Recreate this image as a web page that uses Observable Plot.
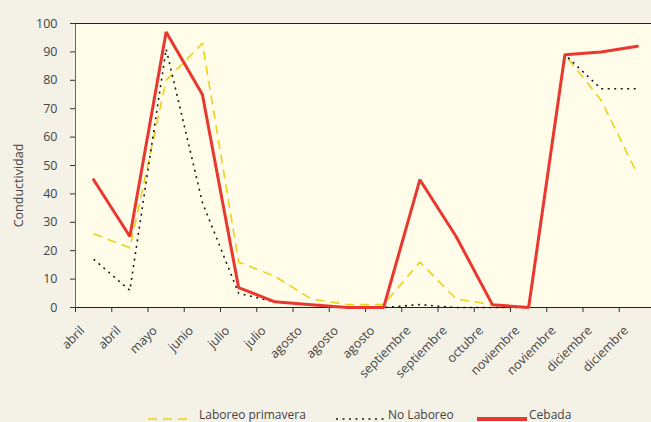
<!DOCTYPE html>
<html><head><meta charset="utf-8">
<script src="https://cdn.jsdelivr.net/npm/d3@7"></script>
<script src="https://cdn.jsdelivr.net/npm/@observablehq/plot@0.6"></script>
<style>
html,body{margin:0;padding:0;background:#f4f1e6;width:651px;height:422px;overflow:hidden;font-family:"Open Sans",sans-serif;color:#444;}
#chart svg{display:block;overflow:visible;}
#legend{position:relative;height:30px;font-size:12px;}
.item{position:absolute;top:0;height:30px;}
.item svg{position:absolute;top:0;left:0;overflow:visible;}
.item span{position:absolute;top:16px;white-space:nowrap;line-height:14px;}
</style></head><body>
<div id="chart"></div>
<div id="legend"></div>
<script>
// categories (x tick labels)
const months = ["abril","abril","mayo","junio","julio","julio","agosto","agosto","agosto","septiembre","septiembre","octubre","noviembre","noviembre","diciembre","diciembre"];
// series values
const laboreoPrimavera = [26, 21, 80, 93, 16, 11, 3, 1, 1, 16, 3, 1, 0, 89, 73, 47];
const noLaboreo        = [17, 6, 91, 37, 5, 2, 1, 0, 0, 1, 0, 0, 0, 89, 77, 77];
const cebada           = [45, 25, 97, 75, 7, 2, 1, 0, 0, 45, 25, 1, 0, 89, 90, 92];
const seriesNames = ["Laboreo primavera", "No Laboreo", "Cebada"];
const yTicks = [0,10,20,30,40,50,60,70,80,90,100];

const styles = {
  "Laboreo primavera": {stroke:"#ecd21a", strokeWidth:1.6, strokeDasharray:"9,6", strokeLinecap:"butt"},
  "No Laboreo": {stroke:"#1a1a1a", strokeWidth:1.6, strokeDasharray:"2,4.5", strokeLinecap:"butt"},
  "Cebada": {stroke:"#e8382f", strokeWidth:3, strokeLinecap:"round", strokeLinejoin:"miter"}
};
const seriesValues = [laboreoPrimavera, noLaboreo, cebada];
const table = seriesNames.map((name, s) => seriesValues[s].map((v, i) => ({name, x: i + 0.5, v})));
const xTicks = months.map((m, i) => i);

const W = 651, H = 392;
const chart = Plot.plot({
  width: W, height: H,
  marginLeft: 75, marginRight: -4, marginTop: 23, marginBottom: H - 307,
  style: {background: "transparent", fontFamily: "'Open Sans', sans-serif", color: "#444"},
  x: {domain: [0, months.length], axis: null},
  y: {domain: [0, 100], axis: null},
  marks: [
    Plot.frame({fill: "#fffce9", stroke: null}),
    Plot.frame({anchor: "left", stroke: "#666"}),
    Plot.frame({anchor: "top", stroke: "#222"}),
    Plot.frame({anchor: "bottom", stroke: "#222"}),
    Plot.axisY({ticks: yTicks, tickSize: 5, tickPadding: 13, fontSize: 12.5, label: null, stroke: "#333"}),
    Plot.axisX({ticks: xTicks, tickFormat: () => "", tickSize: 5, label: null, stroke: "#333"}),
    Plot.axisX({ticks: xTicks, tickFormat: i => months[i], tickSize: 0, tickRotate: -45, tickPadding: 21, dx: 7, fontSize: 12.5, label: null}),
    Plot.text(["Conductividad"], {frameAnchor: "left", textAnchor: "middle", rotate: -90, dx: -57, dy: 20, fontSize: 12.5, fill: "#444"}),
    ...table.map((rows, s) => Plot.line(rows, {x: "x", y: "v", ...styles[seriesNames[s]]}))
  ]
});
document.getElementById("chart").append(chart);

// legend
const legendPos = [{sx:148, sw:42, tx:199}, {sx:336, sw:49, tx:388}, {sx:477, sw:50, tx:529}];
const legend = document.getElementById("legend");
seriesNames.forEach((name, s) => {
  const st = styles[name];
  const p = legendPos[s];
  const item = document.createElement("div");
  item.className = "item";
  item.style.left = "0px";
  item.innerHTML = `<svg width="651" height="30"><line x1="${p.sx}" x2="${p.sx + p.sw}" y1="27" y2="27" stroke="${st.stroke}" stroke-width="${s===2?4:st.strokeWidth}" stroke-dasharray="${st.strokeDasharray||""}" stroke-linecap="butt"/></svg><span style="left:${p.tx}px">${name}</span>`;
  legend.append(item);
});
</script>
</body></html>
